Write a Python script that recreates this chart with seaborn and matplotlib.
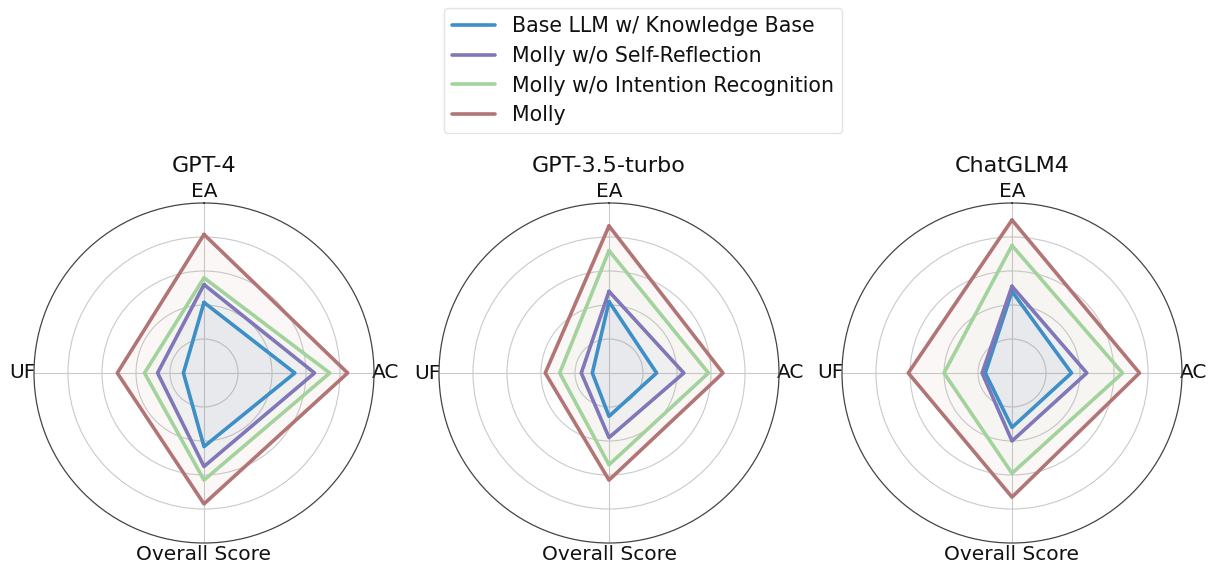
import numpy as np
import matplotlib
matplotlib.use("Agg")
import matplotlib.pyplot as plt
import seaborn as sns

sns.set_theme(style="white")
plt.rcParams['font.family'] = ['DejaVu Sans']
plt.rcParams['text.color'] = '#111111'

categories = ["EA", "AC", "Overall Score", "UF"]
models = ["GPT-4", "GPT-3.5-turbo", "ChatGLM4"]
series = ["Base LLM w/ Knowledge Base", "Molly w/o Self-Reflection",
          "Molly w/o Intention Recognition", "Molly"]

# values per model, per series, in category order (EA, AC, Overall Score, UF)
gpt4_base = [0.415, 0.534, 0.433, 0.121]
gpt4_wo_sr = [0.52, 0.65, 0.55, 0.273]
gpt4_wo_ir = [0.56, 0.74, 0.63, 0.35]
gpt4_molly = [0.815, 0.845, 0.77, 0.51]

gpt35_base = [0.42, 0.28, 0.255, 0.098]
gpt35_wo_sr = [0.48, 0.44, 0.38, 0.163]
gpt35_wo_ir = [0.72, 0.585, 0.54, 0.29]
gpt35_molly = [0.865, 0.67, 0.63, 0.375]

glm4_base = [0.48, 0.35, 0.32, 0.157]
glm4_wo_sr = [0.51, 0.44, 0.40, 0.176]
glm4_wo_ir = [0.75, 0.65, 0.59, 0.40]
glm4_molly = [0.90, 0.75, 0.73, 0.61]

data = {
    "GPT-4": [gpt4_base, gpt4_wo_sr, gpt4_wo_ir, gpt4_molly],
    "GPT-3.5-turbo": [gpt35_base, gpt35_wo_sr, gpt35_wo_ir, gpt35_molly],
    "ChatGLM4": [glm4_base, glm4_wo_sr, glm4_wo_ir, glm4_molly],
}

colors = ["#3d8fc6", "#8077b8", "#a3d39c", "#b27575"]

W, H = 1213, 568
fig = plt.figure(figsize=(W / 100, H / 100), dpi=100)

centers_x = [204, 609, 1012]
cy = 373
R = 170

n = len(categories)
angles = np.linspace(0, 2 * np.pi, n, endpoint=False).tolist()
angles_closed = angles + angles[:1]

handles = []
for i, model in enumerate(models):
    cx = centers_x[i]
    ax = fig.add_axes([(cx - R) / W, (H - cy - R) / H, 2 * R / W, 2 * R / H],
                      projection="polar")
    ax.set_theta_offset(np.pi / 2)
    ax.set_theta_direction(-1)
    for j, s in enumerate(series):
        vals = data[model][j]
        vals_c = vals + vals[:1]
        ln, = ax.plot(angles_closed, vals_c, color=colors[j], linewidth=2.6,
                      label=s)
        ax.fill(angles_closed, vals_c, color=colors[j], alpha=0.05)
        if i == 0:
            handles.append(ln)
    ax.set_ylim(0, 1.0)
    ax.set_yticks([0.2, 0.4, 0.6, 0.8])
    ax.set_yticklabels([])
    ax.set_xticks(angles)
    ax.set_xticklabels(categories, fontsize=14.5, color="#111111")
    ax.tick_params(axis="x", pad=-5)
    ax.grid(True, color="#cacaca", linewidth=0.8)
    ax.spines["polar"].set_color("#444444")
    ax.spines["polar"].set_linewidth(0.9)
    ax.set_facecolor("white")
    ax.text(0.5, 1.11, model, transform=ax.transAxes, ha="center",
            va="center", fontsize=16, color="#111111")

leg = fig.legend(handles=handles, labels=series, loc="upper center",
                 bbox_to_anchor=(643 / W, 1 - 8 / H), borderaxespad=0,
                 fontsize=14.8, frameon=True,
                 handlelength=2.1, borderpad=0.4, labelspacing=0.47,
                 edgecolor="#dddddd", fancybox=True)
for t in leg.get_texts():
    t.set_color("#111111")

fig.savefig("out.png", dpi=100)
